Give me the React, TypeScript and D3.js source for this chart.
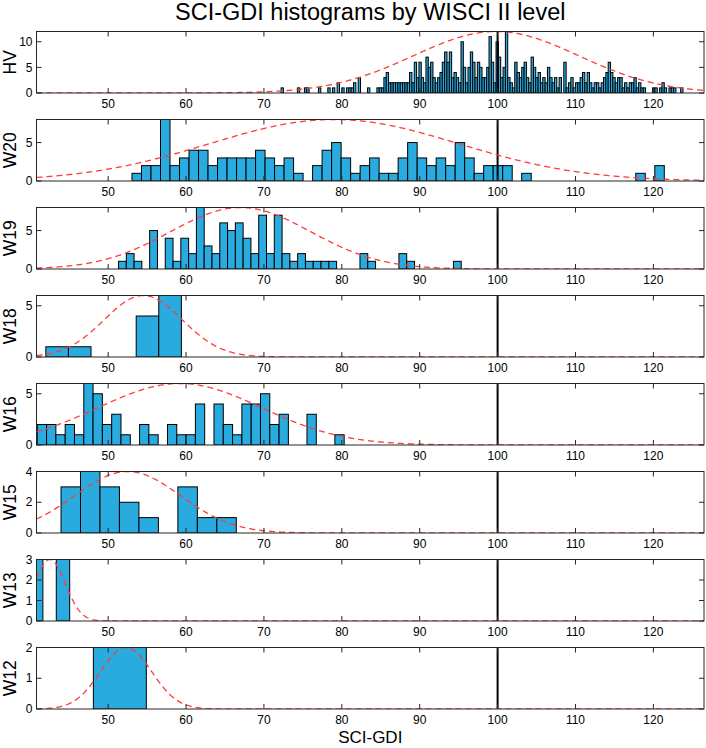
import React, { useEffect, useRef } from "react";
import * as d3 from "d3";

// WISCI II levels, top to bottom
const levels = ["HV", "W20", "W19", "W18", "W16", "W15", "W13", "W12"];

// histogram counts per level
const hvCounts = [
  1, 0, 0, 0, 0, 0, 0, 1, 0, 0,
  1, 1, 0, 0, 0, 0, 1, 0, 0, 0,
  1, 0, 1, 0, 2, 0, 1, 0, 1, 1,
  1, 2, 0, 3, 0, 0, 0, 1, 0, 0,
  0, 1, 1, 1, 3, 4, 2, 2, 2, 2,
  2, 2, 2, 2, 2,
  4, 2, 6, 3, 6, 3, 2, 7, 5, 6,
  3, 2, 3, 4, 6, 8, 6, 8, 3, 4, 3, 2,
  10, 5, 2, 5, 8, 6, 3, 6, 5, 3, 3, 5, 11, 6, 2, 10, 7, 3, 5, 12,
  3, 2, 1,
  6, 4, 3, 5, 6, 3, 2, 7, 5, 3, 4, 2, 3, 2, 5, 3, 2,
  3, 1, 3, 0, 6, 1, 2, 3, 1, 2, 2, 3, 4, 2, 4, 2, 1, 2, 2, 1, 2, 3, 4, 6,
  4, 3, 2, 3, 3, 1, 2, 1, 2, 2, 3, 1, 2, 1, 1, 0, 0, 0, 1, 1, 0, 1, 2, 1, 0,
  1, 1, 1, 0, 0, 1,
];
const w20Counts = [
  1, 2, 2, 8, 2, 3, 4, 4, 2, 3, 3, 3, 3, 4, 3, 2, 3, 1, 0, 2, 4, 5, 3, 1, 2,
  3, 1, 1, 3, 5, 3, 2, 3, 2, 5, 3, 1, 2, 2, 2, 0, 1, 0, 0, 0, 0, 0, 0, 0, 0,
  0, 0, 0, 1, 0, 2,
];
const w19Counts = [
  1, 2, 1, 0, 5, 0, 4, 1, 4, 2, 8, 3, 2, 6, 5, 6, 4, 2, 7, 2, 7, 2, 1, 2, 1,
  1, 1, 1, 0, 0, 0, 2, 1, 0, 0, 0, 2, 1, 0, 0, 0, 0, 0, 1,
];
const w18Counts = [1, 1, 0, 0, 4, 6];
const w16Counts = [
  2, 2, 1, 2, 1, 6, 5, 2, 3, 1, 0, 2, 1, 0, 2, 1, 1, 4, 0, 4, 2, 1, 4, 4, 5,
  2, 3, 0, 0, 3, 0, 0, 1,
];
const w15Counts = [3, 4, 3, 2, 1, 0, 3, 1, 1];
const w13Counts = [3, 0, 3];
const w12Counts = [2];

const counts = [hvCounts, w20Counts, w19Counts, w18Counts, w16Counts, w15Counts, w13Counts, w12Counts];
const binStarts = [72.2, 53.06, 51.33, 42.0, 40.9, 43.95, 39.9, 48.1];
const binWidths = [0.3, 1.2204, 1.0, 2.9, 1.194, 2.5, 1.72, 6.8];

// fitted normal curves (mean, sd)
const fitMeans = [99.8, 79, 67, 54.5, 59.2, 52.5, 42.5, 52.3];
const fitSds = [10.6, 16, 9, 5, 10.5, 6.8, 2.0, 3.3];

const yTicks = [[0, 5, 10], [0, 5], [0, 5], [0, 5], [0, 5], [0, 2, 4], [0, 1, 2, 3], [0, 1, 2]];
const xTicks = [50, 60, 70, 80, 90, 100, 110, 120];
const xDomain = [40.8, 126.5];
const refValue = 100;

const FONT = "'Liberation Sans', Arial, Helvetica, sans-serif";

export default function App() {
  const ref = useRef<SVGSVGElement>(null);

  useEffect(() => {
    const width = 706;
    const height = 748;
    const left = 36.5;
    const right = 704;
    const top0 = 31.5;
    const pitch = 88;
    const ph = 61.5;
    const tick = 5;

    const svg = d3.select(ref.current!);
    svg.selectAll("*").remove();
    svg.attr("width", width).attr("height", height);

    svg
      .append("rect")
      .attr("width", width)
      .attr("height", height)
      .attr("fill", "#fff");

    const x = d3.scaleLinear().domain(xDomain).range([left, right]);

    svg
      .append("text")
      .attr("x", (left + right) / 2)
      .attr("y", 20)
      .attr("text-anchor", "middle")
      .attr("font-family", FONT)
      .attr("font-size", 23.5)
      .attr("fill", "#000")
      .text("SCI-GDI histograms by WISCI II level");

    levels.forEach((name, i) => {
      const data = counts[i];
      const ymax = d3.max(data) ?? 1;
      const top = top0 + i * pitch;
      const y = d3.scaleLinear().domain([0, ymax]).range([top + ph, top]);
      const g = svg.append("g");

      const clipId = `clip-${i}`;
      g.append("clipPath")
        .attr("id", clipId)
        .append("rect")
        .attr("x", left)
        .attr("y", top)
        .attr("width", right - left)
        .attr("height", ph);

      const plot = g.append("g").attr("clip-path", `url(#${clipId})`);

      const start = binStarts[i];
      const w = binWidths[i];
      const bins = data
        .map((c, k) => ({ c, x0: start + k * w, x1: start + (k + 1) * w }))
        .filter((d) => d.c > 0);

      plot
        .selectAll("rect.bar")
        .data(bins)
        .enter()
        .append("rect")
        .attr("class", "bar")
        .attr("x", (d) => x(d.x0))
        .attr("width", (d) => x(d.x1) - x(d.x0))
        .attr("y", (d) => y(d.c))
        .attr("height", (d) => y(0) - y(d.c))
        .attr("fill", "#2aabdf")
        .attr("stroke", "#000")
        .attr("stroke-width", 1);

      // reference line at 100
      plot
        .append("line")
        .attr("x1", x(refValue))
        .attr("x2", x(refValue))
        .attr("y1", top)
        .attr("y2", top + ph)
        .attr("stroke", "#000")
        .attr("stroke-width", 2);

      // normal fit, scaled to the tallest bar
      const mu = fitMeans[i];
      const sd = fitSds[i];
      const xs = d3.range(xDomain[0], xDomain[1] + 0.1, 0.1);
      const line = d3
        .line<number>()
        .x((v) => x(v))
        .y((v) => y(ymax * Math.exp(-((v - mu) ** 2) / (2 * sd * sd))));
      plot
        .append("path")
        .datum(xs)
        .attr("d", line)
        .attr("fill", "none")
        .attr("stroke", "#ff3b3b")
        .attr("stroke-width", 1.3)
        .attr("stroke-dasharray", "6,4");

      // box
      g.append("rect")
        .attr("x", left)
        .attr("y", top)
        .attr("width", right - left)
        .attr("height", ph)
        .attr("fill", "none")
        .attr("stroke", "#262626")
        .attr("stroke-width", 1);

      // x ticks (inside, bottom and top)
      xTicks.forEach((t) => {
        g.append("line")
          .attr("x1", x(t)).attr("x2", x(t))
          .attr("y1", top + ph).attr("y2", top + ph - tick)
          .attr("stroke", "#262626");
        g.append("line")
          .attr("x1", x(t)).attr("x2", x(t))
          .attr("y1", top).attr("y2", top + tick)
          .attr("stroke", "#262626");
        g.append("text")
          .attr("x", x(t))
          .attr("y", top + ph + 15)
          .attr("text-anchor", "middle")
          .attr("font-family", FONT)
          .attr("font-size", 12)
          .attr("fill", "#000")
          .text(t);
      });

      // y ticks (inside, left and right)
      yTicks[i].forEach((t) => {
        g.append("line")
          .attr("x1", left).attr("x2", left + tick)
          .attr("y1", y(t)).attr("y2", y(t))
          .attr("stroke", "#262626");
        g.append("line")
          .attr("x1", right).attr("x2", right - tick)
          .attr("y1", y(t)).attr("y2", y(t))
          .attr("stroke", "#262626");
        g.append("text")
          .attr("x", left - 4)
          .attr("y", y(t))
          .attr("dy", "0.35em")
          .attr("text-anchor", "end")
          .attr("font-family", FONT)
          .attr("font-size", 12)
          .attr("fill", "#000")
          .text(t);
      });

      g.append("text")
        .attr("transform", `translate(16,${top + ph / 2}) rotate(-90)`)
        .attr("text-anchor", "middle")
        .attr("font-family", FONT)
        .attr("font-size", 17.5)
        .attr("fill", "#000")
        .text(name);
    });

    svg
      .append("text")
      .attr("x", (left + right) / 2)
      .attr("y", 743)
      .attr("text-anchor", "middle")
      .attr("font-family", FONT)
      .attr("font-size", 17)
      .attr("fill", "#000")
      .text("SCI-GDI");
  }, []);

  return (
    <div>
      <svg ref={ref} style={{ position: "absolute", left: 0, top: 0 }} />
    </div>
  );
}
